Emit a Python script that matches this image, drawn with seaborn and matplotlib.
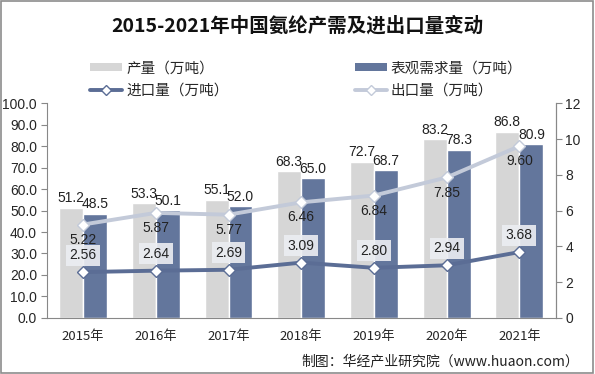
import numpy as np
import pandas as pd
import seaborn as sns
import matplotlib.pyplot as plt
from matplotlib.patches import Patch, Rectangle
from matplotlib.lines import Line2D

years = ["2015年", "2016年", "2017年", "2018年", "2019年", "2020年", "2021年"]
production = [51.2, 53.3, 55.1, 68.3, 72.7, 83.2, 86.8]
demand = [48.5, 50.1, 52.0, 65.0, 68.7, 78.3, 80.9]
imports = [2.56, 2.64, 2.69, 3.09, 2.80, 2.94, 3.68]
exports = [5.22, 5.87, 5.77, 6.46, 6.84, 7.85, 9.60]

sns.set_style("white")
plt.rcParams['font.family'] = ['Noto Sans CJK SC', 'DejaVu Sans']

gray_bar = "#d6d6d6"
blue_bar = "#63769c"
imp_col = "#5b6d95"
exp_col = "#c3cad9"
txt_col = "#222222"
num_font = ['Liberation Sans', 'DejaVu Sans']

bars = pd.DataFrame({
    "year": years * 2,
    "value": production + demand,
    "kind": ["产量（万吨）"] * 7 + ["表观需求量（万吨）"] * 7,
})

fig = plt.figure(figsize=(5.95, 3.74), dpi=100)
ax = fig.add_axes([0.0785, 0.150, 0.8555, 0.574])

sns.barplot(data=bars, x="year", y="value", hue="kind", ax=ax, width=0.66,
            palette=[gray_bar, blue_bar], legend=False, saturation=1)
ax.set_ylim(0, 100)
ax.set_xlim(-0.5, 6.5)
ax.set_yticks(np.arange(0, 101, 10))
ax.set_yticklabels([f"{v:.1f}" for v in np.arange(0, 101, 10)], fontsize=10,
                   family=num_font)
ax.set_xlabel("")
ax.set_ylabel("")
ax.tick_params(axis="x", length=0, labelsize=9.5, pad=9)
ax.set_xticks(np.arange(-0.5, 7, 1), minor=True)
ax.tick_params(axis="x", which="minor", length=4, color="#888888", direction="out")
ax.tick_params(axis="y", length=4, color="#888888", direction="out", pad=3)
ax.spines["top"].set_visible(False)
for s in ["left", "bottom", "right"]:
    ax.spines[s].set_color("#888888")
    ax.spines[s].set_linewidth(0.8)

for c in ax.containers:
    for rect in c:
        h = rect.get_height()
        ax.text(rect.get_x() + rect.get_width() / 2, h + 1.2, f"{h:.1f}",
                ha="center", va="bottom", fontsize=10, color=txt_col,
                family=num_font)

ax2 = ax.twinx()
xs = np.arange(len(years))
sns.lineplot(x=xs, y=exports, ax=ax2, color=exp_col, linewidth=2.8,
             marker="D", markersize=6, markerfacecolor="white",
             markeredgecolor=exp_col, markeredgewidth=1)
sns.lineplot(x=xs, y=imports, ax=ax2, color=imp_col, linewidth=2.8,
             marker="D", markersize=6, markerfacecolor="white",
             markeredgecolor=imp_col, markeredgewidth=1)
ax2.set_ylim(0, 12)
ax2.set_yticks(np.arange(0, 13, 2))
ax2.set_yticklabels([str(v) for v in range(0, 13, 2)], fontsize=10,
                    family=num_font)
ax2.tick_params(axis="y", length=4, color="#888888", direction="out", pad=3)
ax2.set_xlim(-0.5, 6.5)
for s in ["top", "left", "bottom"]:
    ax2.spines[s].set_visible(False)
ax2.spines["right"].set_color("#888888")
ax2.spines["right"].set_linewidth(0.8)

for x, v in zip(xs, exports):
    ax2.text(x, v - 0.45, f"{v:.2f}", ha="center", va="top", fontsize=10,
             color=txt_col, family=num_font)
for x, v in zip(xs, imports):
    ax2.text(x, v + 0.55, f"{v:.2f}", ha="center", va="bottom", fontsize=10,
             color=txt_col, family=num_font,
             bbox=dict(boxstyle="square,pad=0.25", facecolor="#eceef2",
                       edgecolor="none", alpha=0.9))

fig.text(0.5, 0.93, "2015-2021年中国氨纶产需及进出口量变动", ha="center",
         va="center", fontsize=14, fontweight="bold", color="#111111")

handles = [
    Patch(facecolor=gray_bar, edgecolor="none"),
    Line2D([], [], color=imp_col, linewidth=2.8, marker="D", markersize=5,
           markerfacecolor="white", markeredgecolor=imp_col),
    Patch(facecolor=blue_bar, edgecolor="none"),
    Line2D([], [], color=exp_col, linewidth=2.8, marker="D", markersize=5,
           markerfacecolor="white", markeredgecolor=exp_col),
]
labels = ["产量（万吨）", "进口量（万吨）", "表观需求量（万吨）", "出口量（万吨）"]
fig.legend(handles, labels, ncol=2, loc="center", bbox_to_anchor=(0.515, 0.788),
           frameon=False, fontsize=10.5, handlelength=2.2, handleheight=0.5,
           columnspacing=8.6, labelspacing=0.55, handletextpad=0.3)

fig.text(0.973, 0.035, "制图：华经产业研究院（www.huaon.com）", ha="right",
         va="center", fontsize=10, color=txt_col)

fig.patches.append(Rectangle((0.002, 0.003), 0.995, 0.994, transform=fig.transFigure,
                             fill=False, edgecolor="#8c8c8c", linewidth=1.2))

fig.savefig("out.png", dpi=100)
